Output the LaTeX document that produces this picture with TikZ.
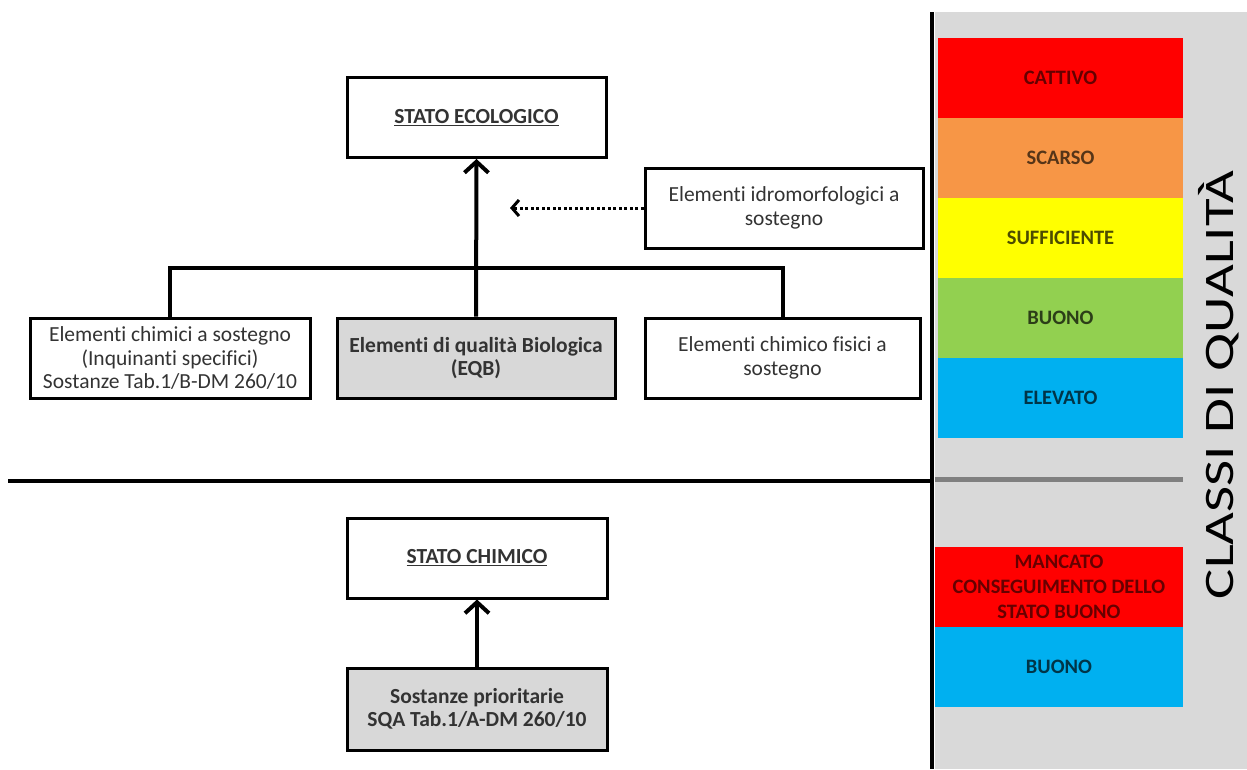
\documentclass[tikz,border=0pt]{standalone}
\usepackage{fontspec}
\usepackage{graphicx}
\setmainfont{Carlito}[Ligatures=NoCommon]
\usetikzlibrary{arrows.meta,positioning}
\definecolor{pannello}{RGB}{217,217,217}
\definecolor{grigiobox}{RGB}{216,216,216}
\definecolor{cattivo}{RGB}{255,0,0}
\definecolor{scarso}{RGB}{247,150,70}
\definecolor{sufficiente}{RGB}{255,255,0}
\definecolor{buono}{RGB}{146,208,80}
\definecolor{elevato}{RGB}{0,176,240}

\begin{document}
\begin{tikzpicture}[x=1pt,y=-1pt,font=\fontsize{21.5}{23.5}\selectfont,
box/.style={draw,line width=3pt,minimum width=278pt,minimum height=80pt,align=center,inner sep=2pt,text=black!80},
grigio/.style={box,fill=grigiobox,font=\fontsize{21.5}{23.5}\selectfont\bfseries},
arr/.style={-{Straight Barb[length=11pt,width=24pt]},line width=4pt},
punti/.style={-{Straight Barb[length=7pt,width=16pt]},line width=3pt,dash pattern=on 3pt off 2.5pt},
classe/.style={minimum width=245pt,minimum height=80pt,inner sep=0pt,outer sep=0pt,align=center,font=\fontsize{20.5}{25}\selectfont\bfseries}]

\useasboundingbox(0,0)rectangle(1247,769);
\fill[pannello](935,12)rectangle(1247,769);
\draw[line width=4pt](932,12)--(932,769);
\draw[line width=4pt](8,481)--(932,481);
\draw[line width=5pt,gray](935,479)--(1183,479);

\node[box,minimum width=259pt,font=\fontsize{21.5}{23.5}\selectfont\bfseries] (eco) at(476.5,117.5){\underline{STATO ECOLOGICO}};
\node[box,minimum width=280pt] (chimsost) at(170,358){Elementi chimici a sostegno\\(Inquinanti specifici)\\Sostanze Tab.1/B-DM 260/10};
\node[grigio] (eqb) at(476,358){Elementi di qualità Biologica\\(EQB)};
\node[box,minimum width=275pt] (fisici) at(782.5,358){Elementi chimico fisici a\\sostegno};
\node[box] (idro) at(784,208){Elementi idromorfologici a\\sostegno};
\coordinate (barra) at(476,268);
\coordinate (punta) at(510,208);
\draw[line width=4pt](chimsost.north)|-(barra)-|(fisici.north);
\draw[arr](eqb.north)--(eco.south);
\draw[punti](idro.west)--(punta);

\node[box,minimum width=260pt,font=\fontsize{21.5}{23.5}\selectfont\bfseries] (chim) at(477,558){\underline{STATO CHIMICO}};
\node[grigio,minimum width=260pt,minimum height=82pt] (sost) at(477,709){Sostanze prioritarie\\SQA Tab.1/A-DM 260/10};
\draw[arr](sost.north)--(chim.south);

\node[classe,fill=cattivo,text=cattivo!40!black] (c1) at(1060.5,78){CATTIVO};
\node[classe,fill=scarso,text=scarso!35!black,below=0pt of c1] (c2){SCARSO};
\node[classe,fill=sufficiente,text=sufficiente!30!black,below=0pt of c2] (c3){SUFFICIENTE};
\node[classe,fill=buono,text=buono!30!black,below=0pt of c3] (c4){BUONO};
\node[classe,fill=elevato,text=elevato!30!black,below=0pt of c4] (c5){ELEVATO};
\node[classe,minimum width=248pt,fill=cattivo,text=cattivo!40!black] (mancato) at(1059,587){MANCATO\\CONSEGUIMENTO DELLO\\STATO BUONO};
\node[classe,minimum width=248pt,fill=elevato,text=elevato!30!black,below=0pt of mancato] (buono){BUONO};
\node[rotate=90,anchor=base,inner sep=0pt,font=\fontsize{42}{42}\selectfont] (classi) at(1233,385){\scalebox{1.35}[1]{CLASSI DI QUALITÀ}};
\end{tikzpicture}
\end{document}
